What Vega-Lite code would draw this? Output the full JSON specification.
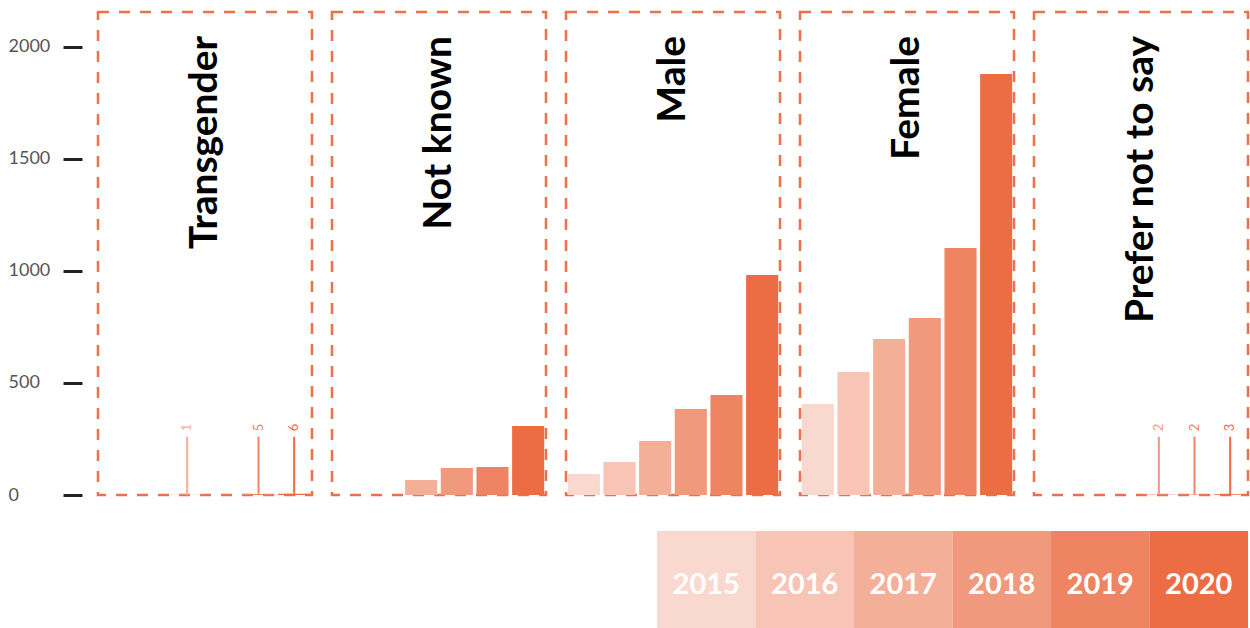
{
  "$schema": "https://vega.github.io/schema/vega-lite/v6.json",
  "padding": {"left": 8, "top": 10, "right": 4, "bottom": 0},
  "config": {
    "font": "Lato",
    "view": {"stroke": "#ef6f47", "strokeDash": [11, 10], "strokeWidth": 2.5},
    "facet": {"spacing": 16}
  },
  "spacing": 27,
  "vconcat": [
    {
      "data": {
        "values": [
          {"gender": "Transgender", "year": "2017", "value": 1},
          {"gender": "Transgender", "year": "2019", "value": 5},
          {"gender": "Transgender", "year": "2020", "value": 6},
          {"gender": "Not known", "year": "2017", "value": 67},
          {"gender": "Not known", "year": "2018", "value": 120},
          {"gender": "Not known", "year": "2019", "value": 125},
          {"gender": "Not known", "year": "2020", "value": 308},
          {"gender": "Male", "year": "2015", "value": 94},
          {"gender": "Male", "year": "2016", "value": 147},
          {"gender": "Male", "year": "2017", "value": 241},
          {"gender": "Male", "year": "2018", "value": 384},
          {"gender": "Male", "year": "2019", "value": 446},
          {"gender": "Male", "year": "2020", "value": 982},
          {"gender": "Female", "year": "2015", "value": 406},
          {"gender": "Female", "year": "2016", "value": 549},
          {"gender": "Female", "year": "2017", "value": 696},
          {"gender": "Female", "year": "2018", "value": 790},
          {"gender": "Female", "year": "2019", "value": 1103},
          {"gender": "Female", "year": "2020", "value": 1879},
          {"gender": "Prefer not to say", "year": "2018", "value": 2},
          {"gender": "Prefer not to say", "year": "2019", "value": 2},
          {"gender": "Prefer not to say", "year": "2020", "value": 3}
        ]
      },
      "facet": {
        "column": {
          "field": "gender",
          "type": "nominal",
          "title": null,
          "sort": ["Transgender", "Not known", "Male", "Female", "Prefer not to say"],
          "header": {"labels": false, "title": null}
        }
      },
      "spacing": {"column": 16, "row": 0},
      "spec": {
        "width": 214,
        "height": 483,
        "layer": [
          {
            "mark": {"type": "bar"},
            "encoding": {
              "x": {
                "field": "year", "type": "nominal", "axis": null,
                "scale": {"domain": ["2015", "2016", "2017", "2018", "2019", "2020"], "paddingInner": 0.1, "paddingOuter": 0.05}
              },
              "y": {
                "field": "value", "type": "quantitative",
                "scale": {"domain": [0, 2156], "nice": false, "zero": true},
                "axis": {
                  "values": [0, 500, 1000, 1500, 2000], "format": "d", "domain": false, "grid": false,
                  "tickSize": 19, "tickWidth": 3, "tickColor": "#222",
                  "labelAlign": "left", "labelPadding": 55, "labelFontSize": 18,
                  "labelColor": "#555", "offset": 14, "title": null, "labelBaseline": "middle"
                }
              },
              "color": {
                "field": "year", "type": "nominal", "legend": null,
                "scale": {"domain": ["2015", "2016", "2017", "2018", "2019", "2020"], "range": ["#f9d9cf", "#f7c4b5", "#f4af98", "#f1997c", "#ee8462", "#ec6c43"]}
              }
            }
          },
          {
            "transform": [{"filter": "datum.value < 20"}],
            "mark": {"type": "rule", "strokeWidth": 2},
            "encoding": {
              "x": {"field": "year", "type": "nominal"},
              "y": {"field": "value", "type": "quantitative"},
              "y2": {"datum": 260},
              "color": {"field": "year", "type": "nominal", "legend": null}
            }
          },
          {
            "transform": [{"filter": "datum.value < 20"}],
            "mark": {"type": "text", "angle": 270, "align": "left", "baseline": "middle", "fontSize": 13},
            "encoding": {
              "x": {"field": "year", "type": "nominal"},
              "y": {"datum": 285},
              "text": {"field": "value", "type": "quantitative"},
              "color": {"field": "year", "type": "nominal", "legend": null}
            }
          },
          {
            "transform": [{"filter": "datum.year == '2020'"}],
            "mark": {"type": "text", "angle": 270, "align": "right", "baseline": "middle", "fontSize": 39, "fontWeight": "bold", "color": "#000"},
            "encoding": {
              "y": {"datum": 2049},
              "text": {"field": "gender", "type": "nominal"}
            }
          }
        ]
      }
    },
    {
      "width": 1150,
      "height": 97,
      "view": {"stroke": null},
      "data": {"values": [{"year": "2015"}, {"year": "2016"}, {"year": "2017"}, {"year": "2018"}, {"year": "2019"}, {"year": "2020"}]},
      "layer": [
        {
          "mark": {"type": "bar"},
          "encoding": {
            "x": {
              "field": "year", "type": "nominal", "axis": null,
              "scale": {"domain": ["p1", "p2", "p3", "p4", "p5", "2015", "2016", "2017", "2018", "2019", "2020"], "paddingInner": 0, "paddingOuter": 0.3375, "align": 1}
            },
            "color": {
              "field": "year", "type": "nominal", "legend": null,
              "scale": {"domain": ["2015", "2016", "2017", "2018", "2019", "2020"], "range": ["#f9d9cf", "#f7c4b5", "#f4af98", "#f1997c", "#ee8462", "#ec6c43"]}
            }
          }
        },
        {
          "mark": {"type": "text", "color": "#ffffff", "fontSize": 29, "fontWeight": "bold", "dy": 5},
          "encoding": {
            "x": {"field": "year", "type": "nominal"},
            "text": {"field": "year", "type": "nominal"}
          }
        }
      ]
    }
  ]
}
